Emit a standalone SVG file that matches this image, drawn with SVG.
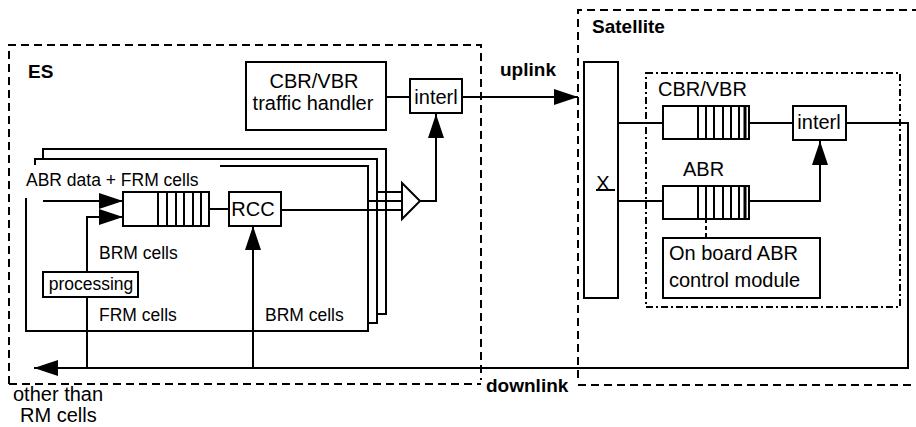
<svg xmlns="http://www.w3.org/2000/svg" width="916" height="427" viewBox="0 0 916 427">
<defs>
<style>
.t{font-family:"Liberation Sans",Arial,sans-serif;font-size:20px;fill:#000}
.b{font-weight:bold;font-size:19px}
.s{font-size:17.5px}
.box{fill:#fff;stroke:#000;stroke-width:2}
.ln{fill:none;stroke:#000;stroke-width:2}
.dash{fill:none;stroke:#000;stroke-width:2;stroke-dasharray:8 5}
.dd{fill:none;stroke:#000;stroke-width:2;stroke-dasharray:7 3 2 3}
</style>
<marker id="ah" markerUnits="userSpaceOnUse" markerWidth="24" markerHeight="16" refX="24" refY="8" orient="auto">
<path d="M0,0 L24,8 L0,16 z" fill="#000"/>
</marker>
</defs>

<g id="containers">
<path class="dash" d="M9,384 V45 H481 V380"/>
<line class="dash" x1="9" y1="384" x2="481" y2="384"/>
<path class="dash" d="M578,378 V10 H916"/>
<line class="dash" x1="578" y1="385" x2="916" y2="385"/>
<rect class="dd" x="646" y="73" width="254" height="234"/>
</g>

<g id="connectors">
<path class="ln" d="M43,158 V149 H386 V314 H377"/>
<path class="ln" d="M35,165 V159 H377 V323 H368"/>
<path class="ln" d="M220,166 H368 V331 H26 V198"/>
<line class="ln" x1="377" y1="192" x2="402" y2="192"/>
<line class="ln" x1="368" y1="201" x2="402" y2="201"/>
<line class="ln" x1="281" y1="210" x2="402" y2="210"/>
<path class="ln" d="M420,201 H436 V114" marker-end="url(#ah)"/>
<line class="ln" x1="386" y1="97" x2="410" y2="97"/>
<line class="ln" x1="462" y1="97" x2="578" y2="97" marker-end="url(#ah)"/>
<line class="ln" x1="43" y1="201" x2="123" y2="201" marker-end="url(#ah)"/>
<path class="ln" d="M87,272 V217 H123" marker-end="url(#ah)"/>
<line class="ln" x1="87" y1="297" x2="87" y2="368"/>
<line class="ln" x1="209" y1="209" x2="229" y2="209"/>
<line class="ln" x1="253" y1="368" x2="253" y2="226" marker-end="url(#ah)"/>
<path class="ln" d="M846,123 H908 V368 H34" marker-end="url(#ah)"/>
<line class="ln" x1="618" y1="123" x2="663" y2="123"/>
<line class="ln" x1="749" y1="123" x2="793" y2="123"/>
<line class="ln" x1="618" y1="201" x2="663" y2="201"/>
<path class="ln" d="M749,201 H820 V141" marker-end="url(#ah)"/>
<line class="ln" x1="706" y1="219" x2="706" y2="238" stroke-dasharray="4 3"/>
</g>

<g id="triangle">
<path class="box" d="M402,183 L420,201 L402,219 z"/>
</g>

<g id="label-es"><text class="t b" x="28" y="78">ES</text></g>
<g id="label-sat"><text class="t b" x="592" y="33">Satellite</text></g>
<g id="label-uplink"><text class="t b" x="500" y="76">uplink</text></g>
<g id="label-downlink"><text class="t b" x="486" y="392">downlink</text></g>

<g id="cbr-handler">
<rect class="box" x="246" y="62" width="140" height="68"/>
<text class="t" x="314" y="88" text-anchor="middle">CBR/VBR</text>
<text class="t" x="313" y="110" text-anchor="middle">traffic handler</text>
</g>

<g id="es-interl">
<rect class="box" x="410" y="79" width="52" height="34"/>
<text class="t" x="436" y="104" text-anchor="middle">interl</text>
</g>

<g id="es-queue">
<rect class="box" x="123" y="192" width="86" height="34"/>
<path class="ln" d="M158,192 V226 M167,192 V226 M176,192 V226 M184,192 V226 M193,192 V226 M201,192 V226"/>
</g>

<g id="rcc">
<rect class="box" x="229" y="192" width="52" height="34"/>
<text class="t" x="253" y="216" text-anchor="middle" font-size="19">RCC</text>
</g>

<g id="processing">
<rect class="box" x="43" y="272" width="95" height="25"/>
<text class="t s" x="91" y="290" text-anchor="middle">processing</text>
</g>

<g id="es-labels">
<text class="t s" x="26" y="186">ABR data + FRM cells</text>
<text class="t s" x="99" y="259">BRM cells</text>
<text class="t s" x="99" y="321">FRM cells</text>
<text class="t s" x="265" y="321">BRM cells</text>
<text class="t" x="13" y="401">other than</text>
<text class="t" x="20" y="422">RM cells</text>
</g>

<g id="switch">
<rect class="box" x="584" y="62" width="34" height="236"/>
<text class="t" x="603" y="190" text-anchor="middle">X</text>
<line class="ln" x1="596" y1="190" x2="615" y2="190" stroke-width="1.5"/>
</g>

<g id="sat-cbr-queue">
<text class="t" x="658" y="96">CBR/VBR</text>
<rect class="box" x="663" y="106" width="86" height="33"/>
<path class="ln" d="M698,106 V139 M706,106 V139 M714,106 V139 M723,106 V139 M731,106 V139 M739,106 V139"/>
<line x1="745" y1="106" x2="745" y2="139" stroke="#000" stroke-width="3"/>
</g>

<g id="sat-abr-queue">
<text class="t" x="683" y="176">ABR</text>
<rect class="box" x="663" y="186" width="86" height="33"/>
<path class="ln" d="M698,186 V219 M706,186 V219 M714,186 V219 M723,186 V219 M731,186 V219 M739,186 V219"/>
<line x1="745" y1="186" x2="745" y2="219" stroke="#000" stroke-width="3"/>
</g>

<g id="sat-interl">
<rect class="box" x="793" y="106" width="53" height="34"/>
<text class="t" x="819" y="129" text-anchor="middle">interl</text>
</g>

<g id="abr-control">
<rect class="box" x="663" y="238" width="157" height="60"/>
<text class="t" x="669" y="260">On board ABR</text>
<text class="t" x="669" y="287">control module</text>
</g>
</svg>
